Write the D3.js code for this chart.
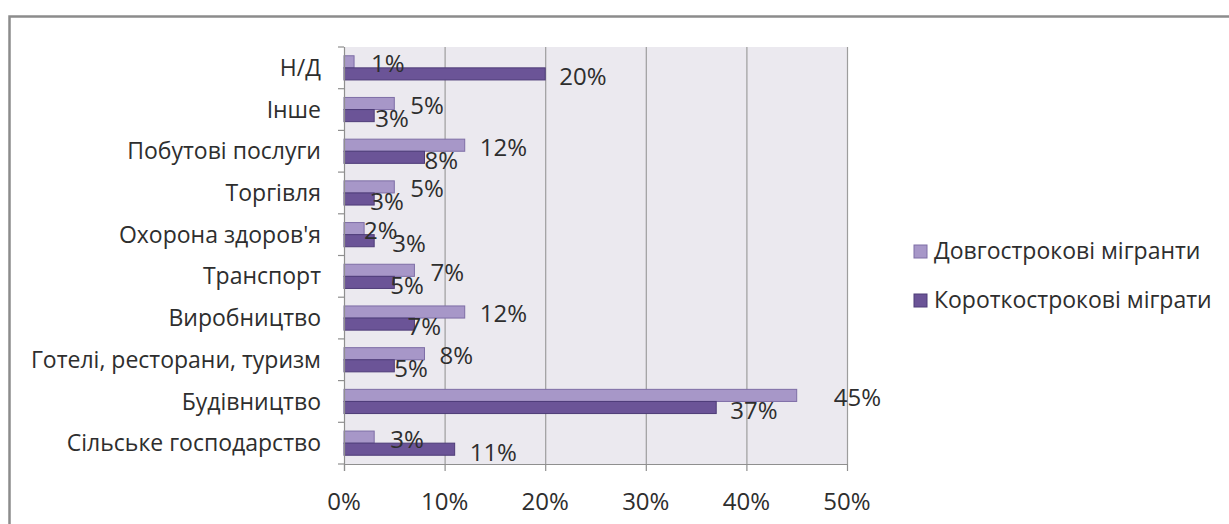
<!DOCTYPE html>
<html>
<head>
<meta charset="utf-8">
<script src="https://cdn.jsdelivr.net/npm/d3@7"></script>
<style>
  html, body { margin: 0; padding: 0; background: #fff; }
  svg { display: block; font-family: "Open Sans", "Noto Sans", sans-serif; }
</style>
</head>
<body>
<svg id="chart" width="1229" height="524"></svg>
<script>
// ---- data ----
const categories = ["Н/Д", "Інше", "Побутові послуги", "Торгівля", "Охорона здоров'я",
  "Транспорт ", "Виробництво", "Готелі, ресторани, туризм", "Будівництво", "Сільське господарство"];
const seriesNames = ["Довгострокові мігранти", "Короткострокові міграти"];
const longTerm  = [1, 5, 12, 5, 2, 7, 12, 8, 45, 3];
const shortTerm = [20, 3, 8, 3, 3, 5, 7, 5, 37, 11];
const xTicks = [0, 10, 20, 30, 40, 50];

// label nudges (layout only, px from bar end)
const longLabelDx  = [17, 16, 15, 16, 0, 16, 15, 15, 37, 16];
const shortLabelDx = [14, 1, 0, -4, 18, -4, -7, 0, 14, 15];

const colors = { light: "#a797c8", lightStroke: "#7e6ea6", dark: "#6b5497", darkStroke: "#4e3c78" };
const textColor = "#2e2e2e";

const svg = d3.select("#chart");
svg.append("rect").attr("width", 1229).attr("height", 524).attr("fill", "#fff");

// outer frame
svg.append("rect").attr("x", 9.5).attr("y", 16.5).attr("width", 1240).attr("height", 540)
  .attr("fill", "none").attr("stroke", "#8c8c8c").attr("stroke-width", 2.5);

const x = d3.scaleLinear().domain([0, 50]).range([344, 847]);
const y = d3.scaleBand().domain(categories).range([47, 464]).paddingInner(0.42).paddingOuter(0.21);
const ySub = d3.scaleBand().domain([0, 1]).range([0, y.bandwidth()]);
const step = y.step();

// plot background
svg.append("rect").attr("x", x(0)).attr("y", 47).attr("width", x(50) - x(0)).attr("height", 464 - 47)
  .attr("fill", "#ebe9ef");

// gridlines
svg.append("g").selectAll("line").data(xTicks.slice(1)).join("line")
  .attr("x1", d => x(d) + 0.5).attr("x2", d => x(d) + 0.5)
  .attr("y1", 47).attr("y2", 464)
  .attr("stroke", "#9d9d9d").attr("stroke-width", 1.2);

// bars
const groups = svg.append("g").selectAll("g").data(categories).join("g")
  .attr("transform", c => `translate(0,${y(c)})`);

groups.append("rect")
  .attr("x", x(0)).attr("y", ySub(0))
  .attr("width", (c, i) => x(longTerm[i]) - x(0)).attr("height", ySub.bandwidth())
  .attr("fill", colors.light).attr("stroke", colors.lightStroke).attr("stroke-width", 1);

groups.append("rect")
  .attr("x", x(0)).attr("y", ySub(1))
  .attr("width", (c, i) => x(shortTerm[i]) - x(0)).attr("height", ySub.bandwidth())
  .attr("fill", colors.dark).attr("stroke", colors.darkStroke).attr("stroke-width", 1);

// data labels
groups.append("text")
  .attr("x", (c, i) => x(longTerm[i]) + longLabelDx[i])
  .attr("y", ySub(0) + ySub.bandwidth() / 2 + 2)
  .attr("dy", "0.35em")
  .attr("font-size", 24).attr("fill", textColor)
  .text((c, i) => longTerm[i] + "%");

groups.append("text")
  .attr("x", (c, i) => x(shortTerm[i]) + shortLabelDx[i])
  .attr("y", ySub(1) + ySub.bandwidth() / 2 + 3)
  .attr("dy", "0.35em")
  .attr("font-size", 24).attr("fill", textColor)
  .text((c, i) => shortTerm[i] + "%");

// left axis line and ticks
const axisColor = "#8f8f8f";
svg.append("line").attr("x1", x(0) + 0.5).attr("x2", x(0) + 0.5).attr("y1", 47).attr("y2", 471)
  .attr("stroke", axisColor).attr("stroke-width", 1.2);
const boundaries = d3.range(categories.length + 1).map(i => 47 + i * step);
svg.append("g").selectAll("line").data(boundaries).join("line")
  .attr("x1", x(0) - 6).attr("x2", x(0))
  .attr("y1", d => d).attr("y2", d => d)
  .attr("stroke", axisColor).attr("stroke-width", 1.2);

// bottom axis
svg.append("line").attr("x1", x(0)).attr("x2", x(50) + 1).attr("y1", 464.5).attr("y2", 464.5)
  .attr("stroke", axisColor).attr("stroke-width", 1.2);
svg.append("g").selectAll("line").data(xTicks).join("line")
  .attr("x1", d => x(d) + 0.5).attr("x2", d => x(d) + 0.5)
  .attr("y1", 464).attr("y2", 471)
  .attr("stroke", axisColor).attr("stroke-width", 1.2);
svg.append("g").selectAll("text").data(xTicks).join("text")
  .attr("x", d => x(d)).attr("y", 502).attr("dy", "0.35em")
  .attr("text-anchor", "middle").attr("font-size", 24).attr("fill", textColor)
  .text(d => d + "%");

// category labels
svg.append("g").selectAll("text").data(categories).join("text")
  .attr("x", 321).attr("y", c => y(c) + y.bandwidth() / 2)
  .attr("dy", "0.35em").attr("text-anchor", "end")
  .attr("font-size", 23).attr("fill", textColor)
  .text(c => c);

// legend
const legend = svg.append("g").selectAll("g").data(seriesNames).join("g")
  .attr("transform", (d, i) => `translate(914,${251 + i * 49})`);
legend.append("rect").attr("x", 0).attr("y", -6).attr("width", 13).attr("height", 13)
  .attr("fill", (d, i) => i === 0 ? colors.light : colors.dark)
  .attr("stroke", (d, i) => i === 0 ? colors.lightStroke : colors.darkStroke).attr("stroke-width", 1);
legend.append("text").attr("x", 20).attr("y", 0).attr("dy", "0.35em")
  .attr("font-size", 23).attr("fill", textColor)
  .text(d => d);
</script>
</body>
</html>
